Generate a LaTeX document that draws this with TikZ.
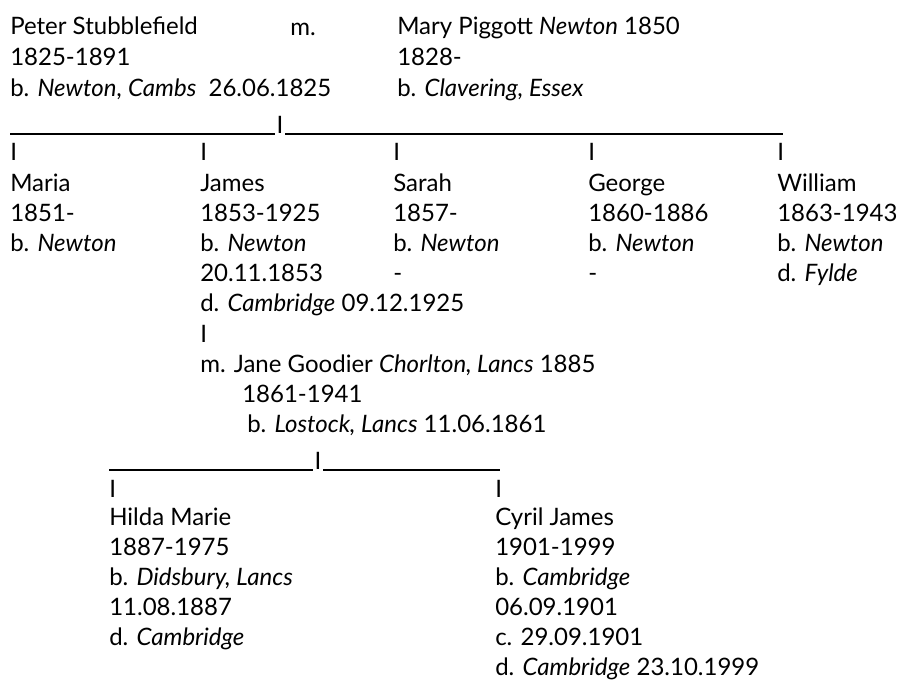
\documentclass[tikz,border=0pt]{standalone}
\usepackage{fontspec}
\setmainfont{Lato}

\begin{document}
\begin{tikzpicture}[x=0.75pt,y=-0.75pt,
  entry/.style={anchor=base west,inner sep=0pt,align=left,font=\fontsize{18}{22.5}\selectfont},
  parents/.style={entry,font=\fontsize{18}{23}\selectfont},
  linkbar/.style={entry,anchor=south,inner xsep=1.2pt},
  rule/.style={line width=1.1pt}]
  \useasboundingbox (0,0) rectangle (897,689);

  % parents (base = last line)
  \node[parents] (peter) at (10,96) {Peter Stubblefield\\1825-1891\\b. \textit{Newton}, \textit{Cambs}\ \ 26.06.1825};
  \node[entry] (wed) at (290,35) {m.};
  \node[parents] (mary) at (397,96) {Mary Piggott \textit{Newton} 1850\\1828-\\b. \textit{Clavering, Essex}};

  \coordinate (top0) at (10,134);
  \coordinate (top1) at (783,134);
  \node[linkbar] (bar0) at (280,134) {I};
  \draw[rule] (top0) -- (bar0.south west);
  \draw[rule] (bar0.south east) -- (top1);

  % children
  \node[entry] (barM) at (10,160) {I};
  \node[entry] (barJ) at (200,160) {I};
  \node[entry] (barS) at (393,160) {I};
  \node[entry] (barG) at (588,160) {I};
  \node[entry] (barW) at (777,160) {I};

  \node[entry] (maria) at (10,251) {Maria\\1851-\\b. \textit{Newton}};
  \node[entry] (james) at (200,311) {James\\1853-1925\\b. \textit{Newton}\\20.11.1853\\d. \textit{Cambridge} 09.12.1925};
  \node[entry] (sarah) at (393,281) {Sarah\\1857-\\b. \textit{Newton}\\-};
  \node[entry] (george) at (588,281) {George\\1860-1886\\b. \textit{Newton}\\-};
  \node[entry] (william) at (777,281) {William\\1863-1943\\b. \textit{Newton}\\d. \textit{Fylde}};

  % James and Jane
  \node[entry] (barJJ) at (200,342) {I};
  \node[entry] (jane) at (200,372) {m. Jane Goodier \textit{Chorlton, Lancs} 1885};
  \node[entry] (janeyrs) at (242,402) {1861-1941};
  \node[entry] (janeb) at (247,432) {b. \textit{Lostock, Lancs} 11.06.1861};

  \coordinate (low0) at (109,470);
  \coordinate (low1) at (500,470);
  \node[linkbar] (bar1) at (318,470) {I};
  \draw[rule] (low0) -- (bar1.south west);
  \draw[rule] (bar1.south east) -- (low1);

  % grandchildren
  \node[entry] (barH) at (109,497) {I};
  \node[entry] (barC) at (495,497) {I};

  \node[entry] (hilda) at (109,645) {Hilda Marie\\1887-1975\\b. \textit{Didsbury, Lancs}\\11.08.1887\\d. \textit{Cambridge}};
  \node[entry] (cyril) at (495,675) {Cyril James\\1901-1999\\b. \textit{Cambridge}\\06.09.1901\\c. 29.09.1901\\d. \textit{Cambridge} 23.10.1999};
\end{tikzpicture}
\end{document}
